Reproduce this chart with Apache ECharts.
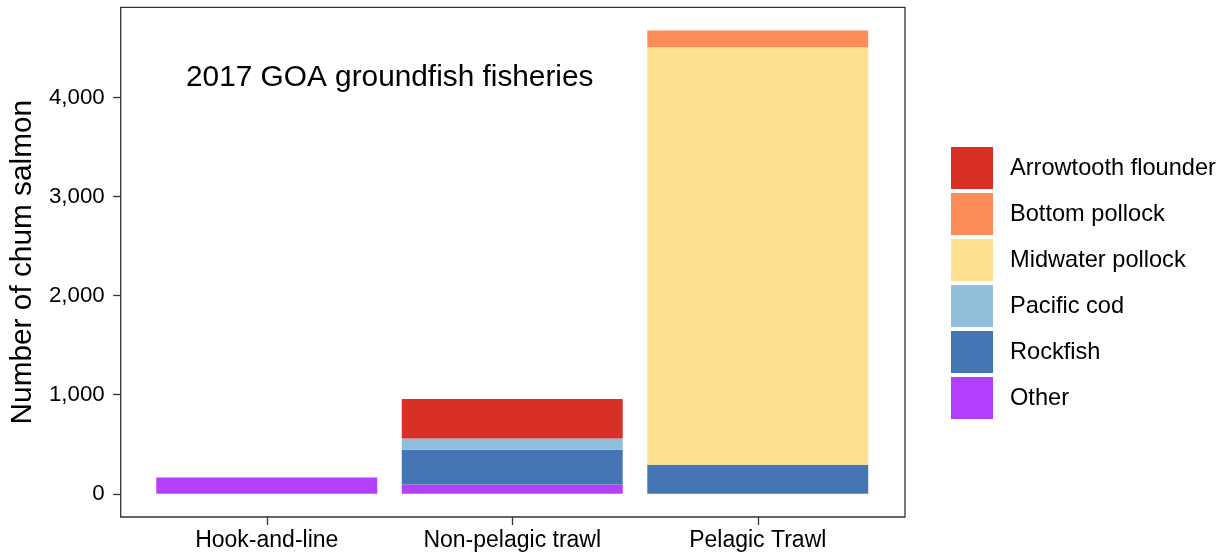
<!DOCTYPE html>
<html lang="en">

<head>
    <title>2017 GOA groundfish fisheries</title>
    <meta charset="UTF-8">
    <script src="https://cdn.jsdelivr.net/npm/echarts@6/dist/echarts.min.js"></script>
    <style>
        html, body { margin: 0; padding: 0; background: #fff; }
        #chart { width: 1225px; height: 558px; }
    </style>
</head>

<body>
    <div id="chart"></div>

    <script>
        // fishery categories on the x axis
        var fisheries = ['Hook-and-line', 'Non-pelagic trawl', 'Pelagic Trawl'];
        // chum salmon counts per target fishery
        var other = [165, 94, 0];
        var rockfish = [0, 350, 293];
        var pacificCod = [0, 114, 0];
        var midwaterPollock = [0, 0, 4215];
        var bottomPollock = [0, 0, 168];
        var arrowtooth = [0, 398, 0];
        var yTicks = [0, 1000, 2000, 3000, 4000];
        var legendOrder = ['Arrowtooth flounder', 'Bottom pollock', 'Midwater pollock', 'Pacific cod', 'Rockfish', 'Other'];

        var font = 'Arial, "Liberation Sans", sans-serif';
        var stackSeries = [
            { name: 'Other', data: other, color: '#B43FFE' },
            { name: 'Rockfish', data: rockfish, color: '#4575B4' },
            { name: 'Pacific cod', data: pacificCod, color: '#91BFDB' },
            { name: 'Midwater pollock', data: midwaterPollock, color: '#FEE090' },
            { name: 'Bottom pollock', data: bottomPollock, color: '#FC8D59' },
            { name: 'Arrowtooth flounder', data: arrowtooth, color: '#D73027' }
        ];

        var series = stackSeries.map(function (s) {
            return {
                name: s.name,
                type: 'bar',
                stack: 'total',
                data: s.data,
                barWidth: '90%',
                itemStyle: { color: s.color },
                emphasis: { disabled: true }
            };
        });

        var option = {
            animation: false,
            backgroundColor: '#fff',
            title: {
                text: '2017 GOA groundfish fisheries',
                left: 181,
                top: 58,
                textStyle: { fontFamily: font, fontSize: 29.8, fontWeight: 'normal', color: '#000' }
            },
            legend: {
                orient: 'vertical',
                left: 951,
                top: 147,
                padding: 0,
                itemWidth: 42,
                itemHeight: 42,
                itemGap: 4,
                icon: 'rect',
                data: legendOrder,
                textStyle: { fontFamily: font, fontSize: 23.6, color: '#000', padding: [2, 0, 0, 12] }
            },
            grid: [
                // data grid: category bands narrower than the frame (ggplot-like expansion)
                { left: 144, right: 344.5, top: 7.3, bottom: 41, containLabel: false },
                // frame
                { left: 120.7, right: 320, top: 7.3, bottom: 41, show: true, borderColor: '#333', borderWidth: 1.3, backgroundColor: 'transparent', z: 10 }
            ],
            xAxis: [
                {
                    type: 'category',
                    gridIndex: 0,
                    data: fisheries,
                    axisLine: { show: false, onZero: false },
                    axisTick: { show: true, length: 8, alignWithLabel: true, lineStyle: { color: '#333', width: 1.3 } },
                    axisLabel: { fontFamily: font, fontSize: 23, color: '#000', margin: 12 }
                },
                { type: 'value', gridIndex: 1, show: false }
            ],
            yAxis: [
                {
                    type: 'value',
                    gridIndex: 0,
                    min: -234,
                    max: 4910,
                    offset: 23.3,
                    name: 'Number of chum salmon',
                    nameLocation: 'middle',
                    nameRotate: 90,
                    nameGap: 80,
                    nameTextStyle: { fontFamily: font, fontSize: 29.8, color: '#000' },
                    splitLine: { show: false },
                    axisLine: { show: false, onZero: false },
                    axisTick: { show: true, length: 7.5, customValues: yTicks, lineStyle: { color: '#333', width: 1.3 } },
                    axisLabel: {
                        fontFamily: font, fontSize: 22.3, color: '#000', margin: 16,
                        customValues: yTicks,
                        formatter: function (v) { return v.toLocaleString('en-US'); }
                    }
                },
                { type: 'value', gridIndex: 1, show: false }
            ],
            series: series
        };

        var myChart = echarts.init(document.getElementById('chart'));
        myChart.setOption(option);
    </script>
</body>

</html>
